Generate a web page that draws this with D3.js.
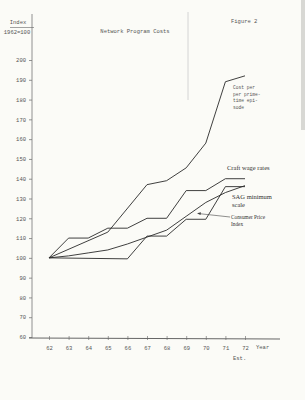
<!DOCTYPE html>
<html>
<head>
<meta charset="utf-8">
<script src="https://cdn.jsdelivr.net/npm/d3@7"></script>
<style>
  body { margin: 0; background: #fbfbf7; }
  svg { display: block; }
  .tw { font-family: 'Liberation Mono', 'DejaVu Sans Mono', monospace; fill: #555; }
  .lbl { font-family: 'Liberation Serif', serif; fill: #333; }
</style>
</head>
<body>
<svg id="chart"></svg>
<script>
// values (index, 1962 = 100)
const yearTicks = [62, 63, 64, 65, 66, 67, 68, 69, 70, 71, 72];
const yearLabels = ['62', '63', '64', '65', '66', '67', '68', '69', '70', '71', '72'];
const indexTicks = [60, 70, 80, 90, 100, 110, 120, 130, 140, 150, 160, 170, 180, 190, 200];

const costYears = [62, 65, 67, 68, 69, 70, 71, 72];
const costValues = [100, 113, 137, 139, 145.5, 158, 189, 192];

const craftYears = [62, 63, 64, 65, 66, 67, 68, 69, 70, 71, 72];
const craftValues = [100, 110, 110, 115, 115, 120, 120, 134, 134, 140, 140];

const sagYears = [62, 66, 67, 68, 69, 70, 71, 72];
const sagValues = [100, 99.5, 111, 111, 119.5, 119.5, 136, 136];

const cpiYears = [62, 63, 64, 65, 66, 67, 68, 69, 70, 71, 72];
const cpiValues = [100, 101, 102.5, 104, 107, 110.5, 114, 121, 128, 133, 136.5];

const width = 305, height = 400;

const svg = d3.select('#chart')
    .attr('width', width)
    .attr('height', height);

const x = d3.scaleLinear().domain([62, 72]).range([49, 245]);
const y = d3.scaleLinear().domain([60, 200]).range([337, 60]);

// scan artefacts: fold line and page edge
svg.append('line')
    .attr('x1', 188).attr('x2', 188).attr('y1', 12).attr('y2', 100)
    .attr('stroke', '#ccc').attr('stroke-width', 0.8);
svg.append('rect')
    .attr('x', 301).attr('y', 0).attr('width', 4).attr('height', 130)
    .attr('fill', '#d8d8d4');

// y axis
const yAxisG = svg.append('g')
    .attr('transform', 'translate(32,0)')
    .call(d3.axisLeft(y).tickValues(indexTicks).tickSize(3).tickPadding(3))
    .call(g => g.select('.domain').remove());
yAxisG.selectAll('line').attr('stroke', '#666').attr('stroke-width', 0.7);
yAxisG.selectAll('text')
    .attr('class', 'tw')
    .style('font-size', '5.5px');

svg.append('line')
    .attr('x1', 32).attr('x2', 32).attr('y1', 14).attr('y2', 338)
    .attr('stroke', '#777').attr('stroke-width', 0.8);

// x axis
const xAxisG = svg.append('g')
    .attr('transform', 'translate(0,338)')
    .call(d3.axisBottom(x).tickValues(yearTicks).tickFormat((d, i) => yearLabels[i]).tickSize(2).tickPadding(6))
    .call(g => g.select('.domain').remove());
xAxisG.selectAll('line').attr('y1', -2).attr('stroke', '#777').attr('stroke-width', 0.7);
xAxisG.selectAll('text')
    .attr('class', 'tw')
    .style('font-size', '5.5px');

svg.append('line')
    .attr('x1', 29).attr('x2', 280).attr('y1', 338).attr('y2', 339)
    .attr('stroke', '#666').attr('stroke-width', 1);

svg.append('text').attr('class', 'tw')
    .attr('x', 256).attr('y', 349)
    .style('font-size', '5.5px')
    .text('Year');
svg.append('text').attr('class', 'tw')
    .attr('x', 233).attr('y', 360)
    .style('font-size', '5.5px')
    .text('Est.');

// headings
svg.append('text').attr('class', 'tw')
    .attr('x', 18).attr('y', 24)
    .attr('text-anchor', 'middle')
    .style('font-size', '5.5px')
    .text('Index');
svg.append('line')
    .attr('x1', 10).attr('x2', 34).attr('y1', 27.5).attr('y2', 27.5)
    .attr('stroke', '#666').attr('stroke-width', 0.6);
svg.append('text').attr('class', 'tw')
    .attr('x', 17).attr('y', 34)
    .attr('text-anchor', 'middle')
    .style('font-size', '5.5px')
    .text('1962=100');

svg.append('text').attr('class', 'tw')
    .attr('x', 135).attr('y', 33)
    .attr('text-anchor', 'middle')
    .style('font-size', '5.5px')
    .text('Network Program Costs');

svg.append('text').attr('class', 'tw')
    .attr('x', 231).attr('y', 23)
    .style('font-size', '5.5px')
    .text('Figure 2');

// series
const line = d3.line()
    .x(d => x(d[0]))
    .y(d => y(d[1]));

const series = [
  {years: costYears, values: costValues},
  {years: craftYears, values: craftValues},
  {years: sagYears, values: sagValues},
  {years: cpiYears, values: cpiValues}
];

svg.append('g')
  .selectAll('path')
  .data(series)
  .join('path')
    .attr('d', s => line(s.years.map((yr, i) => [yr, s.values[i]])))
    .attr('fill', 'none')
    .attr('stroke', '#2a2a2a')
    .attr('stroke-width', 0.9)
    .attr('stroke-linejoin', 'round');

// series labels
svg.append('g')
  .selectAll('text')
  .data(['Cost per', 'per prime-', 'time epi-', 'sode'])
  .join('text')
    .attr('class', 'tw')
    .attr('x', 233)
    .attr('y', (d, i) => 89 + i * 6.7)
    .style('font-size', '4.6px')
    .text(d => d);

svg.append('text').attr('class', 'lbl')
    .attr('x', 227).attr('y', 170)
    .style('font-size', '6.5px')
    .text('Craft wage rates');

svg.append('g')
  .selectAll('text')
  .data(['SAG minimum', 'scale'])
  .join('text')
    .attr('class', 'lbl')
    .attr('x', 232)
    .attr('y', (d, i) => 199 + i * 7.5)
    .style('font-size', '6.5px')
    .text(d => d);

svg.append('g')
  .selectAll('text')
  .data(['Consumer Price', 'Index'])
  .join('text')
    .attr('class', 'lbl')
    .attr('x', 231)
    .attr('y', (d, i) => 219 + i * 6.5)
    .style('font-size', '5.3px')
    .text(d => d);

// leader arrow from the CPI label to its line
svg.append('line')
    .attr('x1', 198).attr('y1', 213.5).attr('x2', 230).attr('y2', 217)
    .attr('stroke', '#444').attr('stroke-width', 0.6);
svg.append('path')
    .attr('d', 'M197,213.3 L201,212.3 L200.5,215 Z')
    .attr('fill', '#444');
</script>
</body>
</html>
